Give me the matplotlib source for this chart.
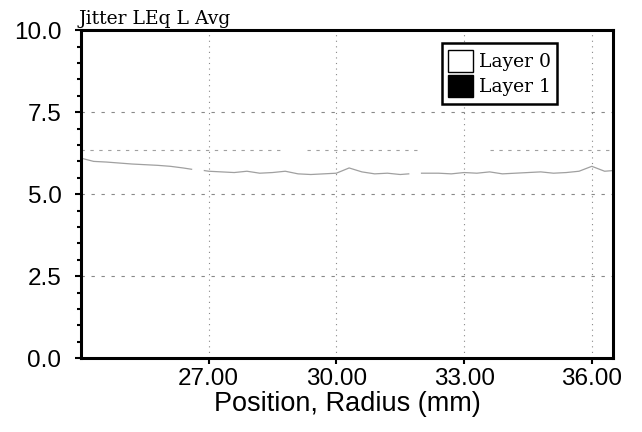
import numpy as np
import matplotlib
matplotlib.use("Agg")
import matplotlib.pyplot as plt
from matplotlib.patches import Patch
from matplotlib.ticker import MultipleLocator

# radius positions (mm) and jitter values, nan = gap
radius = [24.0, 24.3, 24.6, 24.9, 25.2, 25.5, 25.8, 26.1, 26.4, 26.6,
          26.75, 26.9, 27.0, 27.3, 27.6, 27.9, 28.2, 28.5, 28.8, 29.1,
          29.4, 29.7, 30.0, 30.3, 30.6, 30.9, 31.2, 31.5, 31.7, 31.85,
          32.0, 32.4, 32.7, 33.0, 33.3, 33.6, 33.9, 34.2, 34.5, 34.8,
          35.1, 35.4, 35.7, 36.0, 36.3, 36.5]
layer0 = [6.10, 6.00, 5.98, 5.95, 5.92, 5.90, 5.88, 5.85, 5.80, 5.76,
          np.nan, 5.72, 5.70, 5.68, 5.66, 5.70, 5.64, 5.66, 5.70, 5.62,
          5.60, 5.62, 5.64, 5.80, 5.68, 5.62, 5.64, 5.60, 5.62, np.nan,
          5.64, 5.64, 5.62, 5.66, 5.64, 5.68, 5.62, 5.64, 5.66, 5.68,
          5.64, 5.66, 5.70, 5.85, 5.70, 5.72]
# dashed reference level, with the gaps seen in the picture
ref_x = [24.0, 28.75, 28.75, 29.3, 31.9, 31.9, 33.6, 36.5]
ref_y = [6.35, 6.35, np.nan, 6.35, 6.35, np.nan, 6.35, 6.35]

xticks = [27, 30, 33, 36]
yticks = [0.0, 2.5, 5.0, 7.5, 10.0]

fig = plt.figure(figsize=(6.42, 4.32), dpi=100)
ax = fig.add_axes([0.126, 0.171, 0.829, 0.759])

ax.plot(radius, layer0, color="#a0a0a0", linewidth=0.9)
ax.plot(ref_x, ref_y, color="#a0a0a0", linewidth=0.8, linestyle=(0, (3, 5)))

ax.set_xlim(24.0, 36.5)
ax.set_ylim(0, 10)
ax.set_xticks(xticks)
ax.set_xticklabels([f"{v:.2f}" for v in xticks], fontsize=17.5, family="Liberation Sans")
ax.set_yticks(yticks)
ax.set_yticklabels([f"{v:.1f}" for v in yticks], fontsize=17.5, family="Liberation Sans")
ax.yaxis.set_minor_locator(MultipleLocator(0.5))
ax.tick_params(axis="y", which="major", length=4, width=1.5, direction="out", pad=10)
ax.tick_params(axis="y", which="minor", length=3, width=1.5, direction="out")
ax.tick_params(axis="x", which="major", length=4, width=1.5, direction="out", pad=3)

for v in xticks:
    ax.axvline(v, color="#888888", linewidth=0.8, linestyle=(0, (1, 4)), zorder=0)
for v in [2.5, 5.0, 7.5]:
    ax.axhline(v, color="#888888", linewidth=0.8, linestyle=(0, (3, 6)), zorder=0)

for s in ax.spines.values():
    s.set_linewidth(2.2)
    s.set_color("black")

ax.set_xlabel("Position, Radius (mm)", fontsize=19.5, family="Liberation Sans", labelpad=1)
ax.text(-0.005, 1.008, "Jitter LEq L Avg", transform=ax.transAxes, ha="left", va="bottom",
        fontsize=13.5, family="DejaVu Serif")

handles = [Patch(facecolor="white", edgecolor="black", label="Layer 0"),
           Patch(facecolor="black", edgecolor="black", label="Layer 1")]
leg = ax.legend(handles=handles, loc="upper right", bbox_to_anchor=(0.895, 0.96),
                fancybox=False, framealpha=1, edgecolor="black",
                prop={"family": "DejaVu Serif", "size": 13.5},
                handlelength=1.33, handleheight=1.4, handletextpad=0.3,
                borderpad=0.35, labelspacing=0.2, borderaxespad=0)
leg.get_frame().set_linewidth(1.8)

fig.savefig("out.png", dpi=100)
